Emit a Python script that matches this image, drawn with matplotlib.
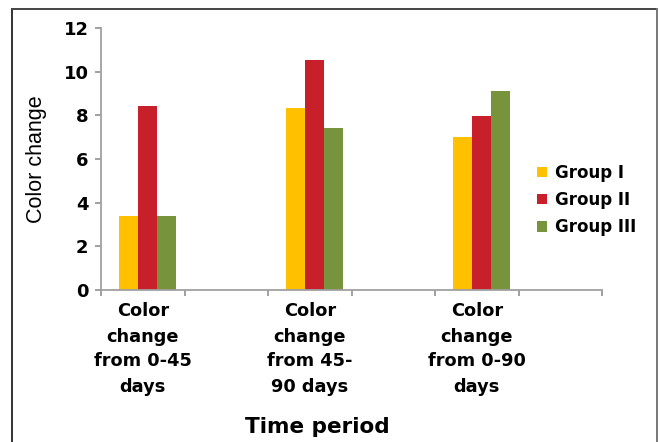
import numpy as np
import matplotlib
matplotlib.use('Agg')
import matplotlib.pyplot as plt
from matplotlib.lines import Line2D

# data
categories = ['Color\nchange\nfrom 0-45\ndays', 'Color\nchange\nfrom 45-\n90 days', 'Color\nchange\nfrom 0-90\ndays']
groups = ['Group I', 'Group II', 'Group III']
group_1 = [3.4, 8.35, 7.0]
group_2 = [8.45, 10.55, 7.95]
group_3 = [3.4, 7.4, 9.1]
colors = ['#FFC000', '#C8202A', '#77933C']

bold_font = 'DejaVu Sans'

fig = plt.figure(figsize=(6.6, 4.42), dpi=100)
ax = fig.add_axes([101 / 660, 1 - 290 / 442, 501 / 660, 262 / 442])

# every category sits in a slot of width 2, the odd slots stay empty
x = np.arange(len(categories)) * 2
width = 0.225
offsets = [-0.17, 0.055, 0.28]
for vals, off, col, name in zip([group_1, group_2, group_3], offsets, colors, groups):
    ax.bar(x + off, vals, width, color=col, label=name, zorder=2)

ax.set_xlim(-0.5, 5.5)
ax.set_ylim(0, 12)
ax.set_yticks(np.arange(0, 13, 2))
ax.set_xticks(x)
ax.set_xticklabels(categories, fontsize=12.8, fontweight='bold', family=bold_font,
                   linespacing=1.5)
ax.set_xticks(np.arange(-0.5, 6, 1), minor=True)
ax.tick_params(axis='x', which='major', length=0, pad=9)
ax.tick_params(axis='x', which='minor', length=4, width=1.2, color='#909090', direction='out')
ax.tick_params(axis='y', length=4, width=1.2, color='#909090', pad=5)
for lab in ax.get_yticklabels():
    lab.set_fontsize(13)
    lab.set_fontweight('bold')
    lab.set_family(bold_font)

for s in ['top', 'right']:
    ax.spines[s].set_visible(False)
for s in ['left', 'bottom']:
    ax.spines[s].set_color('#A0A0A0')
    ax.spines[s].set_linewidth(1.3)

ax.set_ylabel('Color change', fontsize=15.5, family='Liberation Sans', labelpad=12)
fig.text(317 / 660, 1 - 427 / 442, 'Time period', fontsize=15.5, fontweight='bold',
         family=bold_font, ha='center', va='center')

leg = ax.legend(loc='center left', bbox_to_anchor=(522 / 660, 1 - 200 / 442),
                bbox_transform=fig.transFigure, frameon=False,
                prop={'family': bold_font, 'weight': 'bold', 'size': 12},
                handlelength=0.6, handleheight=0.6, handletextpad=0.5, labelspacing=0.55)

# frame around the figure (no bottom edge)
fx0, fx1, fy1 = 12 / 660, 657 / 660, 1 - 9 / 442
fig.add_artist(Line2D([fx0, fx0], [0, fy1], color='#333333', lw=1.4, transform=fig.transFigure))
fig.add_artist(Line2D([fx0, fx1], [fy1, fy1], color='#444444', lw=1.4, transform=fig.transFigure))
fig.add_artist(Line2D([fx1, fx1], [0, fy1], color='#777777', lw=1.4, transform=fig.transFigure))

fig.savefig('out.png', dpi=100)
